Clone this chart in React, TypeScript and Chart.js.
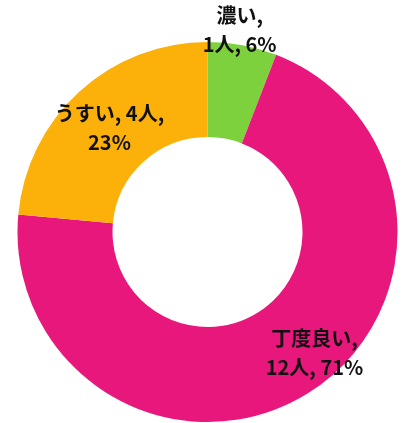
import React, { useEffect, useRef } from "react";
import { Chart, registerables } from "chart.js";

Chart.register(...registerables);

const categories = ["濃い", "丁度良い", "うすい"];
const counts = [1, 12, 4];
const percents = ["6%", "71%", "23%"];
const colors = ["#7DD13D", "#E8177C", "#FCB00A"];
// label nudges relative to each arc's centre (styling only)
const labelLines = [
  ["濃い,", "1人, 6%"],
  ["丁度良い,", "12人, 71%"],
  ["うすい, 4人,", "23%"],
];
const labelShift = [
  [6, -62],
  [32, 0],
  [-2, 1],
];

const labelPlugin = {
  id: "sliceLabels",
  afterDatasetsDraw(chart: any) {
    const ctx = chart.ctx;
    const meta = chart.getDatasetMeta(0);
    ctx.save();
    ctx.fillStyle = "#111";
    ctx.font = 'bold 20px "Noto Sans CJK JP", sans-serif';
    ctx.textAlign = "center";
    ctx.textBaseline = "middle";
    const lh = 28.5;
    meta.data.forEach((arc: any, i: number) => {
      const p = arc.tooltipPosition();
      const x = p.x + labelShift[i][0];
      const y = p.y + labelShift[i][1];
      const lines = labelLines[i];
      const y0 = y - ((lines.length - 1) * lh) / 2;
      lines.forEach((t, j) => ctx.fillText(t, x, y0 + j * lh));
    });
    ctx.restore();
  },
};

export default function App() {
  const ref = useRef<HTMLCanvasElement>(null);
  useEffect(() => {
    if (!ref.current) return;
    const chart = new Chart(ref.current, {
      type: "doughnut",
      data: {
        labels: categories,
        datasets: [
          {
            data: counts,
            backgroundColor: colors,
            borderWidth: 0,
            hoverOffset: 0,
            offset: 0,
          },
        ],
      },
      options: {
        responsive: false,
        animation: false,
        cutout: "50%",
        layout: { padding: { left: 17.5, right: 6.5, top: 42, bottom: 1 } },
        plugins: {
          legend: { display: false },
          tooltip: { enabled: false },
          title: { display: false },
        },
      },
      plugins: [labelPlugin],
    });
    return () => chart.destroy();
  }, []);
  return (
    <div style={{ position: "absolute", left: 0, top: 0, width: 404, height: 423, background: "#fff" }}>
      <canvas ref={ref} width={404} height={423} style={{ width: 404, height: 423, display: "block" }} />
    </div>
  );
}
